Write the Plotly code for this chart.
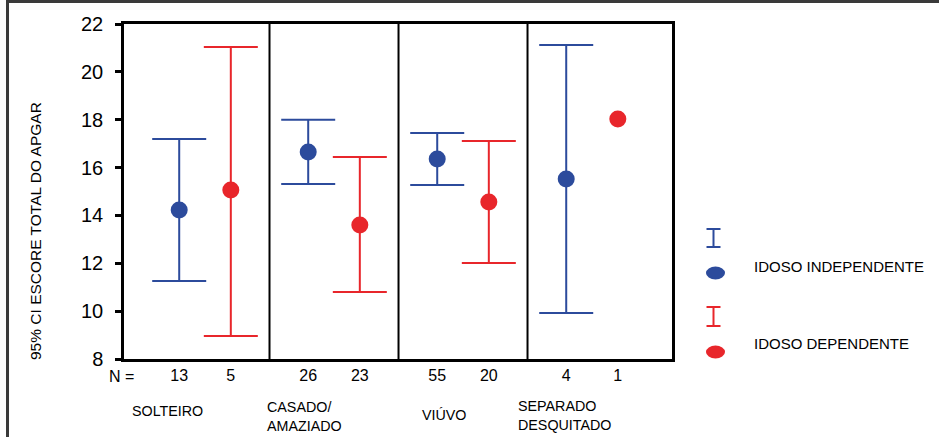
import plotly.graph_objects as go

# Marital-status groups and the 95% CI of the APGAR total score
groups = ["SOLTEIRO", "CASADO/<br>AMAZIADO", "VIÚVO", "SEPARADO<br>DESQUITADO"]

indep_mean = [14.23, 16.65, 16.36, 15.52]
indep_low = [11.26, 15.31, 15.27, 9.92]
indep_high = [17.19, 18.00, 17.44, 21.12]
indep_n = [13, 26, 55, 4]

dep_mean = [15.06, 13.60, 14.56, 18.03]
dep_low = [8.96, 10.80, 12.01, None]
dep_high = [21.04, 16.44, 17.11, None]
dep_n = [5, 23, 20, 1]

y_ticks = [8, 10, 12, 14, 16, 18, 20, 22]

BLUE = "#2C4B9C"
RED = "#E8262B"
FONT = "Arial, Liberation Sans, sans-serif"

W, H = 939, 437
L, R, T, B = 124, 267, 24, 78
OFFSET = 0.2  # half distance between the two series inside a group


def px_x(px):
    return (px - L) / (W - L - R)


def px_y(py):
    return (H - B - py) / (H - T - B)


fig = go.Figure()


def add_series(means, lows, highs, color, sign):
    xs_ci, ys_ci, up, dn, xs_pt, ys_pt = [], [], [], [], [], []
    for g, (m, lo, hi) in enumerate(zip(means, lows, highs)):
        x = g + sign * OFFSET
        if lo is None or hi is None:
            xs_pt.append(x)
            ys_pt.append(m)
        else:
            xs_ci.append(x)
            ys_ci.append(m)
            up.append(hi - m)
            dn.append(m - lo)
    marker = dict(color=color, size=17, symbol="circle")
    fig.add_trace(go.Scatter(
        x=xs_ci, y=ys_ci, mode="markers", marker=marker, showlegend=False,
        error_y=dict(type="data", array=up, arrayminus=dn, symmetric=False,
                     color=color, thickness=2, width=27),
    ))
    if xs_pt:
        fig.add_trace(go.Scatter(x=xs_pt, y=ys_pt, mode="markers",
                                 marker=marker, showlegend=False))


add_series(indep_mean, indep_low, indep_high, BLUE, -1)
add_series(dep_mean, dep_low, dep_high, RED, +1)

tick_x, tick_t = [], []
for g in range(len(groups)):
    tick_x += [g - OFFSET, g + OFFSET]
    tick_t += [str(indep_n[g]), str(dep_n[g])]

shapes = []
# group separators
for g in range(len(groups) - 1):
    shapes.append(dict(type="line", xref="x", yref="paper", x0=g + 0.5, x1=g + 0.5,
                       y0=0, y1=1, line=dict(color="black", width=2)))

# outer frame (top and left edges)
shapes.append(dict(type="line", xref="paper", yref="paper",
                   x0=px_x(6), x1=px_x(960), y0=px_y(1.5), y1=px_y(1.5),
                   line=dict(color="#3a3a3a", width=3)))
shapes.append(dict(type="line", xref="paper", yref="paper",
                   x0=px_x(7.5), x1=px_x(7.5), y0=px_y(0), y1=px_y(460),
                   line=dict(color="#3a3a3a", width=3)))


# legend keys: an error-bar glyph and a dot for each series
def legend_key(color, top, bottom, dot_y):
    cx = 713.5
    shapes.append(dict(type="line", xref="paper", yref="paper",
                       x0=px_x(cx), x1=px_x(cx), y0=px_y(top), y1=px_y(bottom),
                       line=dict(color=color, width=2)))
    for yy in (top, bottom):
        shapes.append(dict(type="line", xref="paper", yref="paper",
                           x0=px_x(cx - 7), x1=px_x(cx + 7), y0=px_y(yy), y1=px_y(yy),
                           line=dict(color=color, width=2)))
    shapes.append(dict(type="circle", xref="paper", yref="paper",
                       x0=px_x(706), x1=px_x(725), y0=px_y(dot_y - 6.5), y1=px_y(dot_y + 6.5),
                       fillcolor=color, line=dict(color=color, width=0)))


legend_key(BLUE, 229, 247, 273)
legend_key(RED, 307, 326, 352)

annotations = [
    dict(text="95% CI ESCORE TOTAL DO APGAR", textangle=-90, xref="paper", yref="paper",
         x=px_x(35), y=px_y(231), xanchor="center", yanchor="middle", showarrow=False,
         font=dict(size=15.5, color="black", family=FONT)),
    dict(text="N =", xref="paper", yref="paper", x=px_x(121), y=px_y(377),
         xanchor="center", yanchor="middle", showarrow=False,
         font=dict(size=16, color="black", family=FONT)),
    dict(text="IDOSO INDEPENDENTE", xref="paper", yref="paper", x=px_x(752), y=px_y(266),
         xanchor="left", yanchor="middle", showarrow=False,
         font=dict(size=15, color="black", family=FONT)),
    dict(text="IDOSO DEPENDENTE", xref="paper", yref="paper", x=px_x(752), y=px_y(343),
         xanchor="left", yanchor="middle", showarrow=False,
         font=dict(size=15, color="black", family=FONT)),
]

# group names under the N row
label_pos = [(167, 411, "center"), (265, 416, "left"), (444, 415, "center"), (516, 415, "left")]
for name, (lx, ly, anchor) in zip(groups, label_pos):
    annotations.append(dict(text=name, xref="paper", yref="paper", x=px_x(lx), y=px_y(ly),
                            xanchor=anchor, yanchor="middle", align="left", showarrow=False,
                            font=dict(size=14.3, color="black", family=FONT)))

fig.update_layout(
    width=W, height=H, autosize=False,
    margin=dict(l=L, r=R, t=T, b=B, pad=0),
    paper_bgcolor="white", plot_bgcolor="white",
    font=dict(family=FONT, color="black"),
    showlegend=False,
    shapes=shapes,
    annotations=annotations,
    xaxis=dict(range=[-0.628, 3.62], showgrid=False, zeroline=False,
               showline=True, linecolor="black", linewidth=2.5, mirror=True,
               tickvals=tick_x, ticktext=tick_t, ticks="", ticklen=0,
               tickfont=dict(size=16, family=FONT, color="black"),
               ticklabelstandoff=0),
    yaxis=dict(range=[8, 22], showgrid=False, zeroline=False,
               showline=True, linecolor="black", linewidth=2.5, mirror=True,
               tickvals=y_ticks, ticks="outside", ticklen=6, tickwidth=3,
               tickcolor="black",
               tickfont=dict(size=20, family=FONT, color="black"),
               ticklabelstandoff=8),
)

fig.write_html("out.html")
